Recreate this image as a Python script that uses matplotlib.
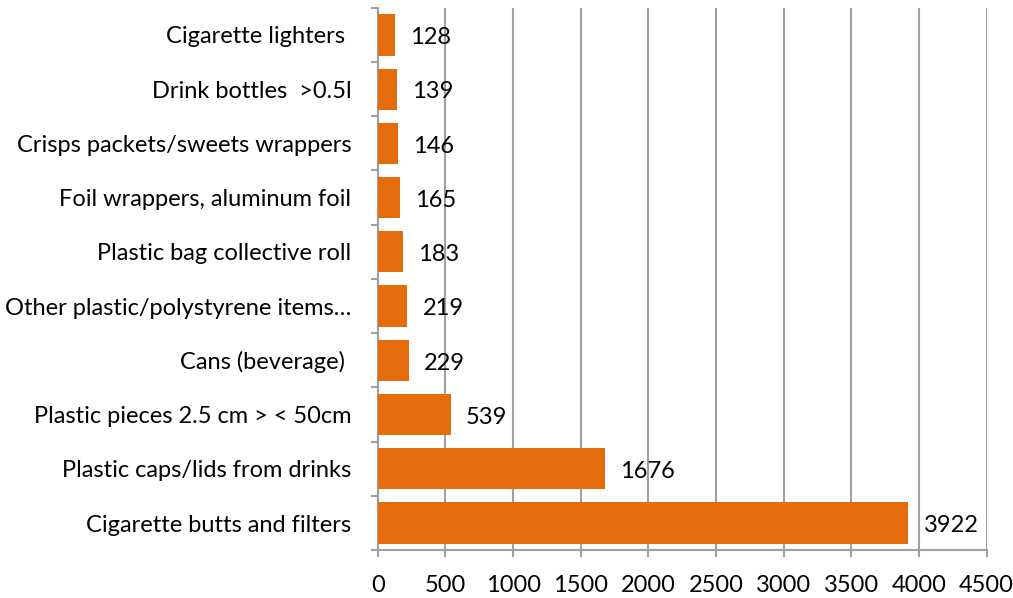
import matplotlib
matplotlib.use("Agg")
import matplotlib.pyplot as plt
import numpy as np

plt.rcParams['font.family'] = ['Lato', 'DejaVu Sans']

# items, from bottom to top
items = ["Cigarette butts and filters",
         "Plastic caps/lids from drinks",
         "Plastic pieces 2.5 cm > < 50cm",
         "Cans (beverage) ",
         "Other plastic/polystyrene items\u2026",
         "Plastic bag collective roll",
         "Foil wrappers, aluminum foil",
         "Crisps packets/sweets wrappers",
         "Drink bottles  >0.5l",
         "Cigarette lighters "]
counts = [3922, 1676, 539, 229, 219, 183, 165, 146, 139, 128]
xticks = [0, 500, 1000, 1500, 2000, 2500, 3000, 3500, 4000, 4500]

orange = "#E46C0A"
gray = "#A0A0A0"
fs = 17

fig = plt.figure(figsize=(10.13, 5.98), dpi=100)
ax = fig.add_axes([0.373, 0.080, 0.601, 0.907])

y = np.arange(len(items))
ax.barh(y, counts, height=0.76, color=orange, zorder=3)

# data labels to the right of each bar
for yi, v in zip(y, counts):
    ax.annotate(str(v), (v, yi), xytext=(11, -2), textcoords="offset points",
                va="center", ha="left", fontsize=fs)

ax.set_xlim(0, 4500)
ax.set_ylim(-0.5, len(items) - 0.5)
ax.set_xticks(xticks)
ax.set_xticklabels([str(t) for t in xticks], fontsize=fs)
ax.set_yticks(y)
ax.set_yticklabels(items, fontsize=fs)
ax.set_yticks(np.arange(-0.5, len(items), 1), minor=True)

ax.tick_params(axis="y", which="major", length=0, pad=19)
ax.tick_params(axis="y", which="minor", length=5, width=1.5, color=gray)
ax.tick_params(axis="x", length=5, width=1.5, color=gray, pad=13)

ax.grid(axis="x", color=gray, linewidth=1.5, zorder=0)
for s in ["top", "right"]:
    ax.spines[s].set_visible(False)
ax.spines["left"].set_color(gray)
ax.spines["left"].set_linewidth(1.5)
ax.spines["bottom"].set_color(gray)
ax.spines["bottom"].set_linewidth(1.5)

fig.savefig("out.png", dpi=100)
